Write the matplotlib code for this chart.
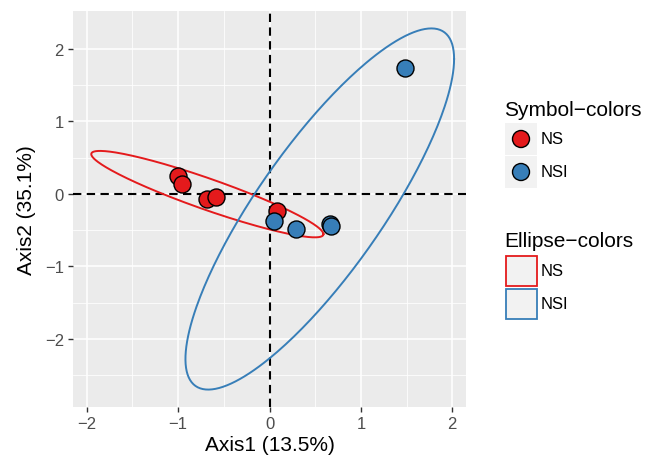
import numpy as np
import matplotlib
matplotlib.use('Agg')
import matplotlib.pyplot as plt
from matplotlib.patches import Rectangle, Circle

plt.rcParams['font.family'] = ['Liberation Sans', 'DejaVu Sans']

# ordination scores
groups = ['NS', 'NSI']
colors = {'NS': '#E41A1C', 'NSI': '#377EB8'}
ns_x = [-1.00, -0.96, -0.68, -0.59, 0.085]
ns_y = [0.25, 0.14, -0.07, -0.04, -0.24]
nsi_x = [0.05, 0.29, 0.66, 0.67, 1.48]
nsi_y = [-0.37, -0.48, -0.41, -0.45, 1.74]

# ellipse centre and covariance
ell_center = {'NS': (-0.68, -0.005), 'NSI': (0.55, -0.21)}
ell_cov = {'NS': [[1.613, -0.70], [-0.70, 0.355]],
           'NSI': [[2.16, 3.04], [3.04, 6.20]]}

fig = plt.figure(figsize=(6.46, 4.60), dpi=100)
ax = fig.add_axes([73 / 646, 1 - 408 / 460, (466 - 73) / 646, (408 - 12) / 460])
ax.set_facecolor('#EBEBEB')
for s in ax.spines.values():
    s.set_visible(False)

ax.set_xlim(-2.15, 2.15)
ax.set_ylim(-2.94, 2.52)
ax.set_xticks([-2, -1, 0, 1, 2])
ax.set_yticks([-2, -1, 0, 1, 2])
ax.set_xticks([-1.5, -0.5, 0.5, 1.5], minor=True)
ax.set_yticks([-2.5, -1.5, -0.5, 0.5, 1.5], minor=True)
ax.grid(which='major', color='white', lw=1.1)
ax.grid(which='minor', color='white', lw=0.55)
ax.set_axisbelow(True)
ax.tick_params(which='major', length=3.6, width=1, color='#333333',
               labelsize=12, labelcolor='#4D4D4D', pad=3)
ax.tick_params(which='minor', length=0)

ax.axhline(0, color='black', ls=(0, (4, 2.6)), lw=1.5, zorder=1.5)
ax.axvline(0, color='black', ls=(0, (4, 2.6)), lw=1.5, zorder=1.5)

t = np.linspace(0, 2 * np.pi, 300)
for g in groups:
    L = np.linalg.cholesky(np.array(ell_cov[g]))
    pts = L @ np.vstack([np.cos(t), np.sin(t)])
    cx, cy = ell_center[g]
    ax.plot(cx + pts[0], cy + pts[1], color=colors[g], lw=1.4, zorder=2)

ax.scatter(ns_x, ns_y, s=150, c=colors['NS'], edgecolors='black', linewidths=1, zorder=3)
ax.scatter(nsi_x, nsi_y, s=150, c=colors['NSI'], edgecolors='black', linewidths=1, zorder=3)

ax.set_xlabel('Axis1 (13.5%)', fontsize=15, labelpad=3)
ax.set_ylabel('Axis2 (35.1%)', fontsize=15, labelpad=6)

# legends drawn in pixel space
lg = fig.add_axes([0, 0, 1, 1])
lg.set_xlim(0, 646)
lg.set_ylim(460, 0)
lg.axis('off')

lg.text(504, 110, 'Symbol\u2212colors', fontsize=15, va='center', ha='left')
for i, g in enumerate(groups):
    yc = 140 + i * 33
    lg.add_patch(Rectangle((505, yc - 16), 32, 32, facecolor='#F2F2F2', edgecolor='none'))
    lg.add_patch(Circle((521, yc), 8.5, facecolor=colors[g], edgecolor='black', lw=1))
    lg.text(541, yc, g, fontsize=12, va='center', ha='left')

lg.text(504, 242, 'Ellipse\u2212colors', fontsize=15, va='center', ha='left')
for i, g in enumerate(groups):
    yc = 272 + i * 33
    lg.add_patch(Rectangle((506, yc - 15), 30.5, 30, facecolor='#F2F2F2',
                           edgecolor=colors[g], lw=1.3))
    lg.text(541, yc, g, fontsize=12, va='center', ha='left')

fig.savefig('out.png', dpi=100)
